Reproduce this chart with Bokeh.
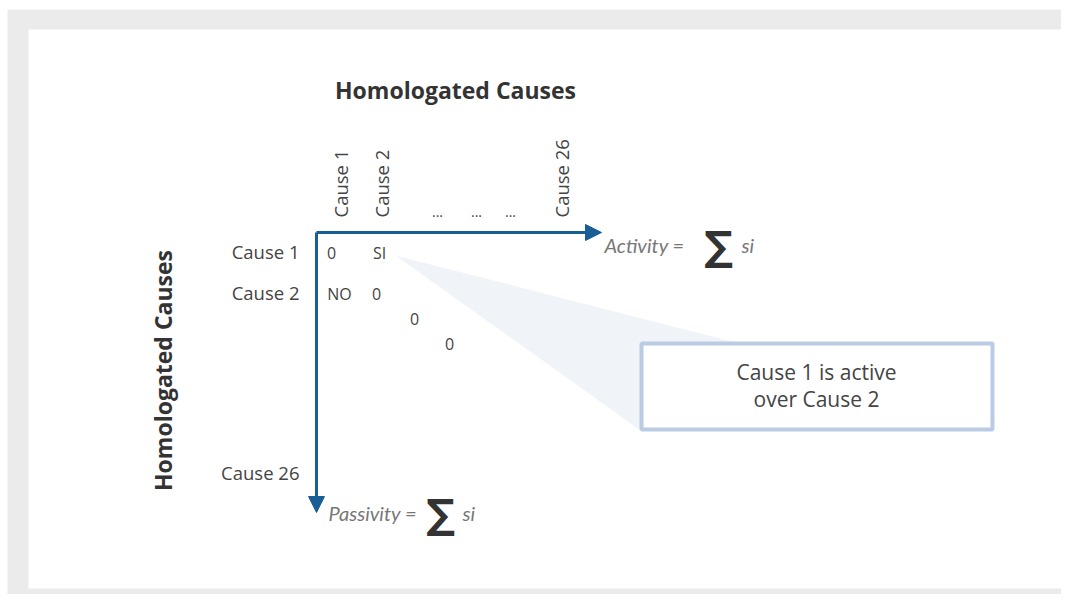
import math
from bokeh.plotting import figure
from bokeh.models import Range1d, Arrow, NormalHead
from bokeh.core.properties import value
from bokeh.embed import file_html
from bokeh.resources import INLINE

# ---- data ----
title = "Homologated Causes"
col_labels = ["Cause 1", "Cause 2", "Cause 26"]
col_x = [340, 381, 561]
ellipsis_x = [437, 476, 510]
row_labels = ["Cause 1", "Cause 2", "Cause 26"]
row_y = [251, 292, 472]
cell_text = ["0", "SI", "NO", "0", "0", "0"]
cell_x = [331, 379, 339, 376, 414, 449]
cell_y = [252, 252, 293, 293, 318, 343]
callout_lines = ["Cause 1 is active", "over Cause 2"]

BLUE = "#1a5e96"
GRAY = "#444444"
FONT = "Open Sans"

W, H = 1061, 594
p = figure(width=W, height=H, output_backend="svg", toolbar_location=None,
           x_range=Range1d(0, W), y_range=Range1d(H, 0),
           min_border_left=0, min_border_right=0, min_border_top=0, min_border_bottom=0)
p.axis.visible = False
p.grid.visible = False
p.outline_line_color = None
p.background_fill_color = "white"
p.border_fill_color = "white"

# frame
p.quad(left=[7], right=[W], top=[9], bottom=[H], fill_color="#ebebeb", line_color=None)
p.quad(left=[28], right=[1061], top=[29], bottom=[588], fill_color="white", line_color=None)

# titles
p.text(x=[455], y=[89], text=[title], text_font=value(FONT), text_font_style="bold",
       text_font_size="23px", text_color="#333333", text_align="center", text_baseline="middle")
p.text(x=[162], y=[370], text=[title], angle=math.pi / 2, text_font=value(FONT),
       text_font_style="bold", text_font_size="23px", text_color="#333333",
       text_align="center", text_baseline="middle")

# callout triangle
p.patch(x=[395, 735, 640], y=[255, 342, 430], fill_color="#f0f3f8", line_color=None)

# column labels
p.text(x=col_x, y=[217] * 3, text=col_labels, angle=math.pi / 2, text_font=value(FONT),
       text_font_size="18.5px", text_color=GRAY, text_align="left", text_baseline="middle")
p.text(x=ellipsis_x, y=[211] * 3, text=["..."] * 3, text_font=value(FONT),
       text_font_size="14px", text_color=GRAY, text_align="center", text_baseline="middle")

# row labels
p.text(x=[299] * 3, y=row_y, text=row_labels, text_font=value(FONT),
       text_font_size="18.5px", text_color=GRAY, text_align="right", text_baseline="middle")

# cells
p.text(x=cell_x, y=cell_y, text=cell_text, text_font=value(FONT),
       text_font_size="16px", text_color=GRAY, text_align="center", text_baseline="middle")

# arrows
p.add_layout(Arrow(x_start=316, y_start=232, x_end=601, y_end=232, line_color=BLUE, line_width=3,
                   end=NormalHead(size=16, fill_color=BLUE, line_color=BLUE)))
p.add_layout(Arrow(x_start=316, y_start=232, x_end=316, y_end=512, line_color=BLUE, line_width=3,
                   end=NormalHead(size=16, fill_color=BLUE, line_color=BLUE)))

# callout box
p.quad(left=[641], right=[992], top=[343], bottom=[429], fill_color="white",
       line_color="#b9cce4", line_width=4)
p.text(x=[816, 816], y=[371, 398], text=callout_lines, text_font=value(FONT),
       text_font_size="21px", text_color=GRAY, text_align="center", text_baseline="middle")

# formulas
p.text(x=[604], y=[244], text=["Activity ="], text_font=value("Lato"), text_font_style="italic",
       text_font_size="20px", text_color="#777777", text_align="left", text_baseline="middle")
p.text(x=[718], y=[245], text=["∑"], text_font=value("DejaVu Sans"), text_font_style="bold",
       text_font_size="40px", text_color="#333333", text_align="center", text_baseline="middle")
p.text(x=[741], y=[244], text=["si"], text_font=value("Lato"), text_font_style="italic",
       text_font_size="20px", text_color="#777777", text_align="left", text_baseline="middle")

p.text(x=[328], y=[512], text=["Passivity ="], text_font=value("Lato"), text_font_style="italic",
       text_font_size="20px", text_color="#777777", text_align="left", text_baseline="middle")
p.text(x=[440], y=[513], text=["∑"], text_font=value("DejaVu Sans"), text_font_style="bold",
       text_font_size="40px", text_color="#333333", text_align="center", text_baseline="middle")
p.text(x=[462], y=[512], text=["si"], text_font=value("Lato"), text_font_style="italic",
       text_font_size="20px", text_color="#777777", text_align="left", text_baseline="middle")

open("out.html", "w").write(file_html(p, INLINE))
